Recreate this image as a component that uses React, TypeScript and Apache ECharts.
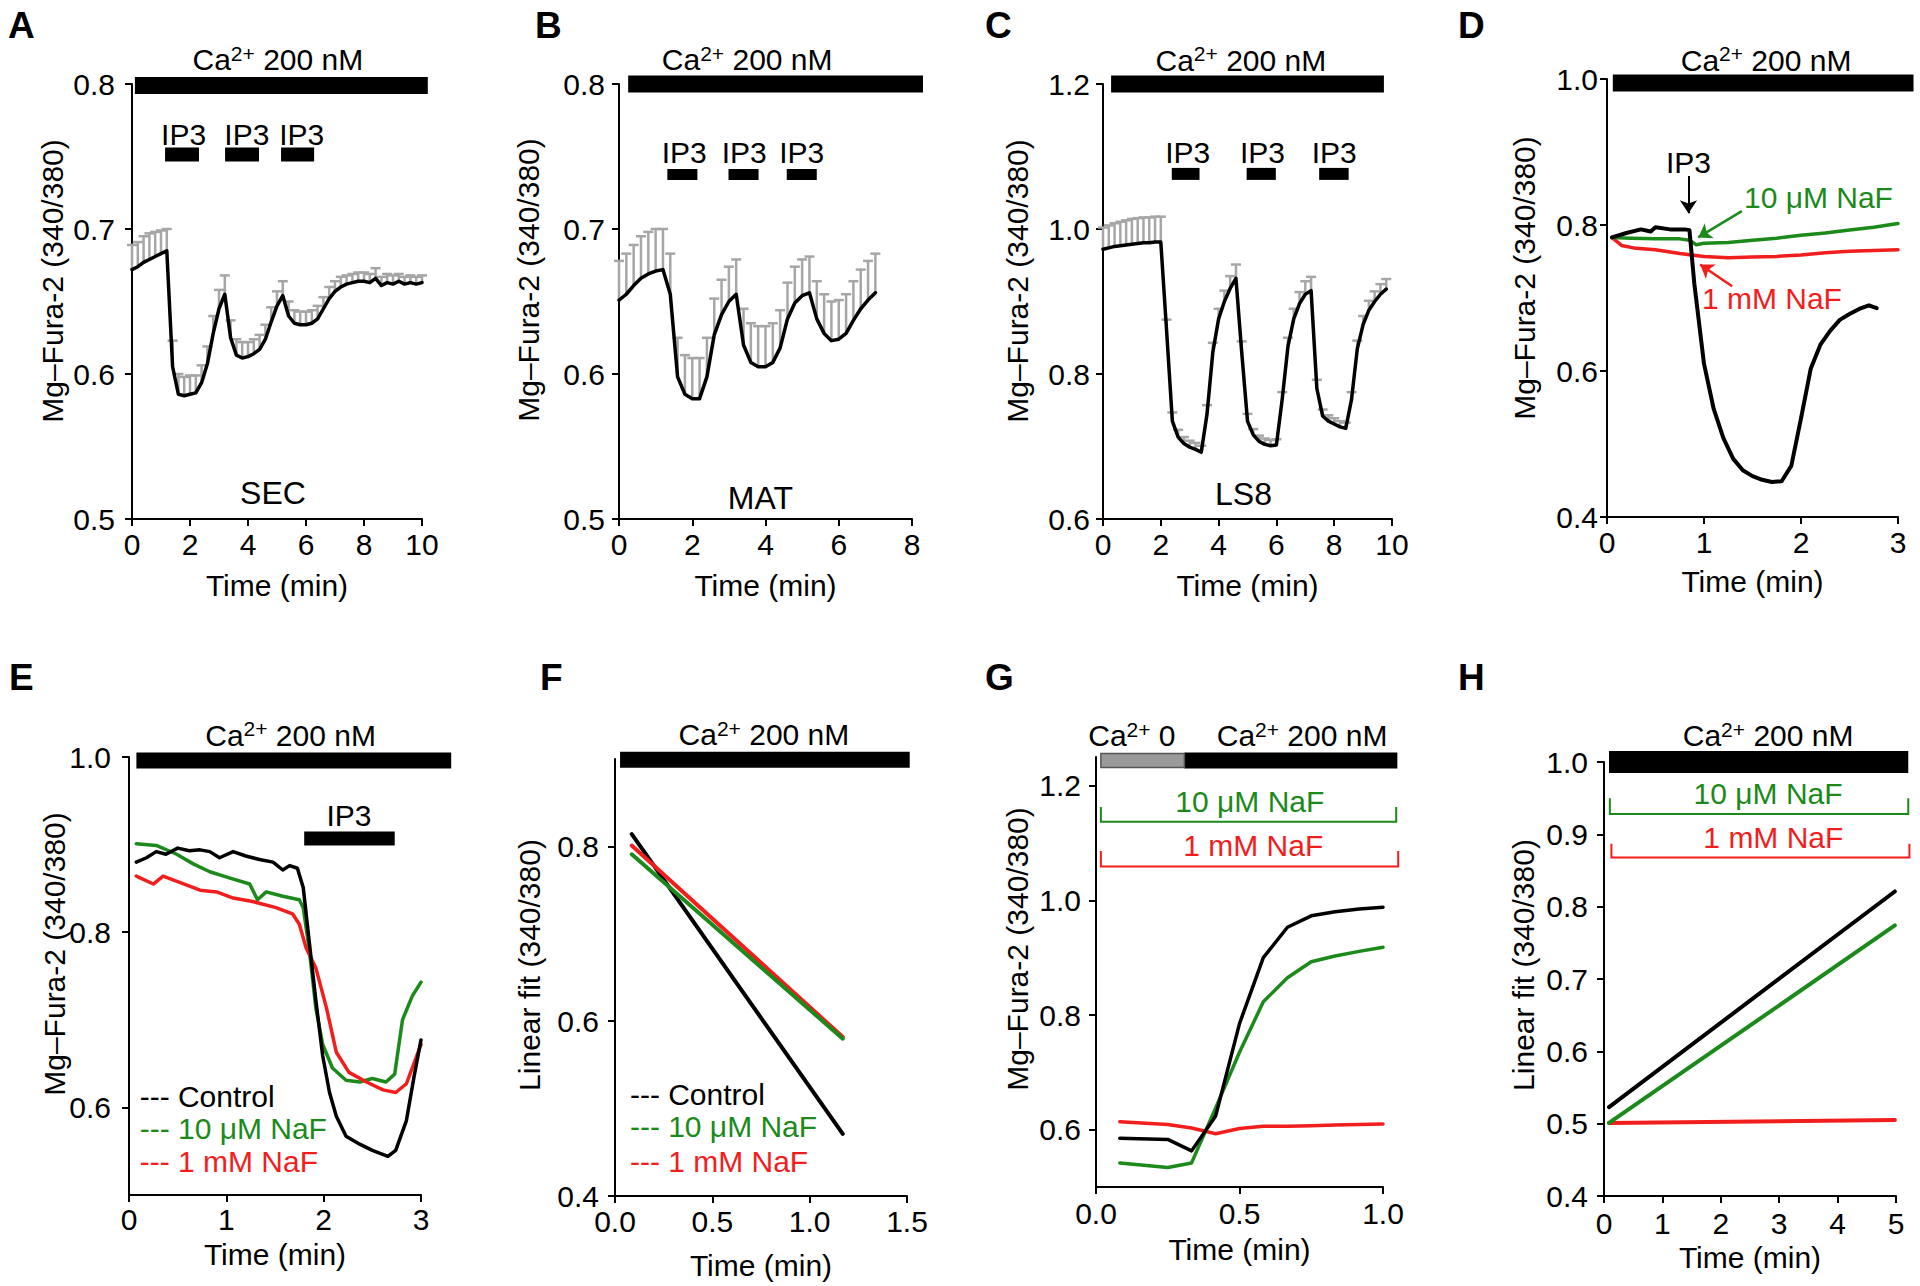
import React, { useEffect, useRef } from "react";
import * as echarts from "echarts";

const FF = '"Liberation Sans", Arial, Helvetica, sans-serif';
const BLACK = "#000000";
const GREEN = "#1b8a1b";
const RED = "#f21d1d";
const ERR_GRAY = "#a6a6a6";
const MU = "\u03bc";

// ---------------- Panel A (SEC) ----------------
const aTime = [0, 0.2, 0.4, 0.6, 0.8, 1, 1.2, 1.4, 1.6, 1.8, 2, 2.2, 2.4, 2.6, 2.8, 3, 3.2, 3.4, 3.6, 3.8, 4, 4.2, 4.4, 4.6, 4.8, 5, 5.2, 5.4, 5.6, 5.8, 6, 6.2, 6.4, 6.6, 6.8, 7, 7.2, 7.4, 7.6, 7.8, 8, 8.2, 8.4, 8.6, 8.8, 9, 9.2, 9.4, 9.6, 9.8, 10];
const aMean = [
  0.672, 0.674, 0.677, 0.679, 0.681, 0.683, 0.685, 0.605, 0.586, 0.585,
  0.586, 0.587, 0.594, 0.607, 0.628, 0.645, 0.655, 0.625, 0.613, 0.611,
  0.612, 0.614, 0.617, 0.624, 0.636, 0.647, 0.654, 0.640, 0.635, 0.634,
  0.634, 0.635, 0.638, 0.645, 0.652, 0.657, 0.660, 0.662, 0.663, 0.664,
  0.664, 0.663, 0.666, 0.661, 0.663, 0.662, 0.664, 0.662, 0.663, 0.662, 0.663,
];
const aErr = [
  0.017, 0.017, 0.018, 0.018, 0.017, 0.016, 0.015, 0.018, 0.014, 0.013,
  0.013, 0.012, 0.012, 0.012, 0.012, 0.013, 0.013, 0.012, 0.011, 0.011,
  0.010, 0.010, 0.010, 0.010, 0.010, 0.010, 0.010, 0.010, 0.009, 0.009,
  0.009, 0.009, 0.009, 0.008, 0.008, 0.007, 0.007, 0.006, 0.006, 0.006,
  0.006, 0.006, 0.007, 0.006, 0.006, 0.006, 0.005, 0.005, 0.005, 0.005, 0.005,
];
const aCaBar = [[0.1, 10.2]];
const aCaLevel = 0.799;
const aIp3Bars = [[1.14, 2.31], [3.21, 4.38], [5.14, 6.28]];
const aIp3Level = 0.7514;
const aIp3LabelX = [1.78, 3.96, 5.85];
const aIp3LabelY = 0.7652;

// ---------------- Panel B (MAT) ----------------
const bTime = [0, 0.2, 0.4, 0.6, 0.8, 1, 1.2, 1.4, 1.6, 1.8, 2, 2.2, 2.4, 2.6, 2.8, 3, 3.2, 3.4, 3.6, 3.8, 4, 4.2, 4.4, 4.6, 4.8, 5, 5.2, 5.4, 5.6, 5.8, 6, 6.2, 6.4, 6.6, 6.8, 7];
const bMean = [
  0.651, 0.655, 0.661, 0.666, 0.669, 0.671, 0.672, 0.655, 0.598, 0.586,
  0.583, 0.583, 0.598, 0.627, 0.641, 0.650, 0.655, 0.620, 0.608, 0.605,
  0.605, 0.608, 0.618, 0.638, 0.649, 0.654, 0.656, 0.638, 0.628, 0.623,
  0.624, 0.628, 0.637, 0.645, 0.651, 0.656,
];
const bErr = [
  0.027, 0.028, 0.028, 0.029, 0.029, 0.029, 0.028, 0.028, 0.027, 0.027,
  0.028, 0.028, 0.027, 0.025, 0.024, 0.024, 0.024, 0.025, 0.027, 0.028,
  0.028, 0.027, 0.026, 0.025, 0.025, 0.025, 0.025, 0.026, 0.027, 0.027,
  0.027, 0.027, 0.027, 0.027, 0.027, 0.027,
];
const bCaBar = [[0.25, 8.3]];
const bCaLevel = 0.8;
const bIp3Bars = [[1.32, 2.14], [2.99, 3.81], [4.58, 5.4]];
const bIp3Level = 0.7376;
const bIp3LabelX = [1.78, 3.42, 4.99];
const bIp3LabelY = 0.753;

// ---------------- Panel C (LS8) ----------------
const cTime = [0, 0.2, 0.4, 0.6, 0.8, 1, 1.2, 1.4, 1.6, 1.8, 2, 2.2, 2.4, 2.6, 2.8, 3, 3.2, 3.4, 3.6, 3.8, 4, 4.2, 4.4, 4.6, 4.8, 5, 5.2, 5.4, 5.6, 5.8, 6, 6.2, 6.4, 6.6, 6.8, 7, 7.2, 7.4, 7.6, 7.8, 8, 8.2, 8.4, 8.6, 8.8, 9, 9.2, 9.4, 9.6, 9.8];
const cMean = [
  0.972, 0.974, 0.976, 0.977, 0.978, 0.979, 0.980, 0.981, 0.981, 0.982,
  0.982, 0.860, 0.735, 0.713, 0.704, 0.699, 0.696, 0.692, 0.745, 0.830,
  0.876, 0.900, 0.918, 0.932, 0.830, 0.735, 0.716, 0.707, 0.703, 0.701,
  0.702, 0.765, 0.838, 0.876, 0.897, 0.910, 0.915, 0.780, 0.742, 0.735,
  0.731, 0.727, 0.725, 0.765, 0.835, 0.868, 0.888, 0.900, 0.910, 0.917,
];
const cErr = [
  0.030, 0.031, 0.032, 0.033, 0.034, 0.035, 0.035, 0.035, 0.035, 0.035,
  0.035, 0.015, 0.012, 0.010, 0.009, 0.009, 0.009, 0.009, 0.012, 0.013,
  0.014, 0.015, 0.017, 0.019, 0.015, 0.010, 0.008, 0.008, 0.008, 0.008,
  0.008, 0.010, 0.012, 0.014, 0.016, 0.018, 0.019, 0.012, 0.009, 0.008,
  0.008, 0.008, 0.008, 0.010, 0.011, 0.012, 0.013, 0.014, 0.014, 0.014,
];
const cCaBar = [[0.28, 9.72]];
const cCaLevel = 1.2;
const cIp3Bars = [[2.38, 3.34], [4.97, 5.98], [7.48, 8.5]];
const cIp3Level = 1.076;
const cIp3LabelX = [2.93, 5.52, 8.0];
const cIp3LabelY = 1.106;

// ---------------- Panel D ----------------
const dBlackTime = [0.05, 0.2, 0.35, 0.45, 0.5, 0.65, 0.8, 0.85, 0.9, 1.0, 1.1, 1.2, 1.3, 1.4, 1.5, 1.6, 1.7, 1.8, 1.9, 2.0, 2.1, 2.2, 2.3, 2.4, 2.5, 2.6, 2.7, 2.78];
const dBlack = [0.783, 0.789, 0.794, 0.791, 0.797, 0.794, 0.794, 0.793, 0.72, 0.61, 0.548, 0.508, 0.48, 0.464, 0.456, 0.451, 0.448, 0.449, 0.47, 0.535, 0.603, 0.636, 0.655, 0.67, 0.678, 0.685, 0.69, 0.686];
const dGreenTime = [0.05, 0.25, 0.5, 0.75, 0.85, 0.92, 1.0, 1.25, 1.5, 1.75, 2.0, 2.25, 2.5, 2.75, 3.0];
const dGreen = [0.783, 0.782, 0.781, 0.781, 0.779, 0.773, 0.775, 0.776, 0.779, 0.782, 0.786, 0.789, 0.793, 0.797, 0.802];
const dRedTime = [0.05, 0.15, 0.3, 0.5, 0.75, 1.0, 1.25, 1.5, 1.75, 2.0, 2.25, 2.5, 2.75, 3.0];
const dRed = [0.783, 0.772, 0.768, 0.766, 0.761, 0.757, 0.755, 0.756, 0.757, 0.759, 0.762, 0.764, 0.765, 0.766];
const dCaBar = [[0.06, 3.16]];
const dCaLevel = 0.9945;
const dIp3Arrow = [0.84, 0.867, 0.84, 0.816];
const dGreenArrow = [1.39, 0.819, 0.94, 0.783];
const dRedArrow = [1.29, 0.716, 0.96, 0.746];

// ---------------- Panel E ----------------
const eBlackTime = [0.075, 0.18, 0.28, 0.38, 0.5, 0.62, 0.73, 0.83, 0.93, 1.07, 1.2, 1.34, 1.48, 1.58, 1.65, 1.73, 1.79, 1.85, 1.92, 1.99, 2.06, 2.13, 2.23, 2.37, 2.5, 2.66, 2.74, 2.85, 2.93, 3.0];
const eBlack = [0.880, 0.885, 0.892, 0.889, 0.896, 0.893, 0.894, 0.892, 0.885, 0.892, 0.887, 0.883, 0.880, 0.871, 0.876, 0.873, 0.851, 0.791, 0.722, 0.659, 0.617, 0.590, 0.567, 0.558, 0.551, 0.544, 0.551, 0.585, 0.636, 0.677];
const eGreenTime = [0.075, 0.28, 0.49, 0.66, 0.83, 1.03, 1.24, 1.32, 1.41, 1.58, 1.75, 1.79, 1.85, 1.92, 1.99, 2.09, 2.23, 2.37, 2.5, 2.64, 2.73, 2.81, 2.91, 3.0];
const eGreen = [0.901, 0.899, 0.889, 0.878, 0.869, 0.862, 0.855, 0.837, 0.846, 0.841, 0.837, 0.828, 0.782, 0.713, 0.672, 0.645, 0.631, 0.629, 0.633, 0.629, 0.638, 0.700, 0.727, 0.743];
const eRedTime = [0.075, 0.25, 0.35, 0.52, 0.73, 0.9, 1.07, 1.27, 1.51, 1.68, 1.75, 1.82, 1.92, 2.03, 2.13, 2.26, 2.44, 2.61, 2.74, 2.85, 3.0];
const eRed = [0.864, 0.855, 0.864, 0.857, 0.848, 0.846, 0.839, 0.835, 0.828, 0.821, 0.809, 0.782, 0.759, 0.713, 0.663, 0.640, 0.629, 0.620, 0.617, 0.627, 0.672];
const eCaBar = [[0.076, 3.31]];
const eCaLevel = 0.996;
const eIp3Bars = [[1.8, 2.73]];
const eIp3Level = 0.907;
const eLegendY = [0.613, 0.576, 0.538];

// ---------------- Panel F ----------------
const fTime = [0.086, 1.17];
const fBlack = [0.814, 0.471];
const fGreen = [0.791, 0.58];
const fRed = [0.801, 0.582];
const fCaBar = [[0.026, 1.514]];
const fCaLevel = 0.899;
const fLegendY = [0.516, 0.479, 0.44];

// ---------------- Panel G ----------------
const gTime = [0.083, 0.25, 0.333, 0.417, 0.5, 0.583, 0.667, 0.75, 0.833, 0.917, 1.0];
const gBlack = [0.585, 0.583, 0.563, 0.624, 0.785, 0.9, 0.953, 0.973, 0.98, 0.985, 0.988];
const gGreen = [0.542, 0.534, 0.542, 0.638, 0.735, 0.823, 0.865, 0.893, 0.903, 0.911, 0.918];
const gRed = [0.614, 0.609, 0.603, 0.593, 0.602, 0.606, 0.606, 0.607, 0.608, 0.609, 0.61];
const gCa0Bar = [[0.017, 0.308]];
const gCaBar = [[0.308, 1.05]];
const gCaLevel = 1.244;
const gGreenBracket = [0.017, 1.046, 1.137, 1.163];
const gRedBracket = [0.017, 1.053, 1.059, 1.086];

// ---------------- Panel H ----------------
const hTime = [0.086, 4.98];
const hBlack = [0.523, 0.821];
const hGreen = [0.501, 0.774];
const hRed = [0.501, 0.505];
const hCaBar = [[0.086, 5.21]];
const hCaLevel = 1.0;
const hGreenBracket = [0.1, 5.21, 0.928, 0.95];
const hRedBracket = [0.127, 5.23, 0.868, 0.887];

// ---------------- helpers ----------------
function lineSeries(gi: number, time: number[], vals: number[], color: string, width: number) {
  return {
    type: "line",
    xAxisIndex: gi,
    yAxisIndex: gi,
    data: time.map((t, i) => [t, vals[i]]),
    showSymbol: false,
    symbol: "none",
    lineStyle: { color, width, join: "round", cap: "round" },
    itemStyle: { color },
    z: 3,
    silent: true,
  };
}

function errSeries(gi: number, time: number[], mean: number[], err: number[]) {
  return {
    type: "custom",
    xAxisIndex: gi,
    yAxisIndex: gi,
    silent: true,
    z: 2,
    data: time.map((t, i) => [t, mean[i], mean[i] + err[i]]),
    renderItem: (params: any, api: any) => {
      const p0 = api.coord([api.value(0), api.value(1)]);
      const p1 = api.coord([api.value(0), api.value(2)]);
      const st = { stroke: ERR_GRAY, lineWidth: 2.5 };
      return {
        type: "group",
        children: [
          { type: "line", shape: { x1: p0[0], y1: p0[1], x2: p1[0], y2: p1[1] }, style: st },
          { type: "line", shape: { x1: p1[0] - 5, y1: p1[1], x2: p1[0] + 5, y2: p1[1] }, style: st },
        ],
      };
    },
  };
}

function rectSeries(gi: number, bars: number[][], level: number, h: number, fill: string, stroke?: string) {
  return {
    type: "custom",
    xAxisIndex: gi,
    yAxisIndex: gi,
    clip: false,
    silent: true,
    z: 4,
    data: bars.map((b) => [b[0], level, b[1]]),
    renderItem: (params: any, api: any) => {
      const p0 = api.coord([api.value(0), api.value(1)]);
      const p1 = api.coord([api.value(2), api.value(1)]);
      return {
        type: "rect",
        shape: { x: p0[0], y: p0[1] - h / 2, width: p1[0] - p0[0], height: h },
        style: stroke ? { fill, stroke, lineWidth: 1.5 } : { fill },
      };
    },
  };
}

function bracketSeries(gi: number, br: number[], color: string) {
  return {
    type: "custom",
    xAxisIndex: gi,
    yAxisIndex: gi,
    clip: false,
    silent: true,
    z: 4,
    data: [[br[0], br[2], br[1], br[3]]],
    renderItem: (params: any, api: any) => {
      const x0 = api.value(0), y = api.value(1), x1 = api.value(2), yt = api.value(3);
      const a = api.coord([x0, yt]);
      const b = api.coord([x0, y]);
      const c = api.coord([x1, y]);
      const d = api.coord([x1, yt]);
      return {
        type: "polyline",
        shape: { points: [a, b, c, d] },
        style: { stroke: color, lineWidth: 2, fill: null },
      };
    },
  };
}

type TextItem = { x: number; y: number; text?: string; ca?: string; color?: string; size?: number; align?: string };

function textSeries(gi: number, items: TextItem[]) {
  return {
    type: "custom",
    xAxisIndex: gi,
    yAxisIndex: gi,
    clip: false,
    silent: true,
    z: 5,
    data: items.map((it) => [it.x, it.y]),
    renderItem: (params: any, api: any) => {
      const it = items[params.dataIndex];
      const p = api.coord([api.value(0), api.value(1)]);
      const size = it.size || 30;
      const style: any = {
        fill: it.color || BLACK,
        font: `${size}px ${FF}`,
        align: it.align || "center",
        verticalAlign: "middle",
      };
      if (it.ca !== undefined) {
        style.text = `{n|Ca}{s|2+}{n| ${it.ca}}`;
        style.rich = {
          n: { fontSize: 30, fontFamily: FF, fill: BLACK },
          s: { fontSize: 21, fontFamily: FF, fill: BLACK, padding: [0, 0, 13, 0] },
        };
      } else {
        style.text = it.text;
      }
      return { type: "text", x: p[0], y: p[1], style };
    },
  };
}

function arrowSeries(gi: number, a: number[], color: string, width: number) {
  return {
    type: "lines",
    coordinateSystem: "cartesian2d",
    xAxisIndex: gi,
    yAxisIndex: gi,
    silent: true,
    z: 6,
    symbol: ["none", "arrow"],
    symbolSize: 13,
    lineStyle: { color, width, opacity: 1 },
    itemStyle: { color },
    data: [{ coords: [[a[0], a[1]], [a[2], a[3]]] }],
  };
}

const grids = [
  { left: 132, top: 84, width: 290, height: 435 },
  { left: 619, top: 84, width: 293, height: 435 },
  { left: 1103, top: 84, width: 289, height: 435 },
  { left: 1607, top: 79, width: 291, height: 438 },
  { left: 129, top: 757, width: 292, height: 438 },
  { left: 615, top: 759, width: 292, height: 437 },
  { left: 1096, top: 757, width: 287, height: 430 },
  { left: 1604, top: 762, width: 292, height: 434 },
];

const xCfg = [
  { min: 0, max: 10, interval: 2, gap: 51, margin: 10, dec: 0 },
  { min: 0, max: 8, interval: 2, gap: 51, margin: 10, dec: 0 },
  { min: 0, max: 10, interval: 2, gap: 51, margin: 10, dec: 0 },
  { min: 0, max: 3, interval: 1, gap: 49, margin: 10, dec: 0 },
  { min: 0, max: 3, interval: 1, gap: 44, margin: 9, dec: 0 },
  { min: 0, max: 1.5, interval: 0.5, gap: 54, margin: 10, dec: 1 },
  { min: 0, max: 1, interval: 0.5, gap: 47, margin: 11, dec: 1 },
  { min: 0, max: 5, interval: 1, gap: 46, margin: 12, dec: 0 },
];

const yCfg: any[] = [
  { min: 0.5, max: 0.8, interval: 0.1, margin: 17 },
  { min: 0.5, max: 0.8, interval: 0.1, margin: 14 },
  { min: 0.6, max: 1.2, interval: 0.2, margin: 13 },
  { min: 0.4, max: 1.0, interval: 0.2, margin: 9 },
  { min: 0.5, max: 1.0, custom: [0.6, 0.8, 1.0], margin: 18 },
  { min: 0.4, max: 0.9, custom: [0.4, 0.6, 0.8], margin: 16 },
  { min: 0.5, max: 1.25, custom: [0.6, 0.8, 1.0, 1.2], margin: 15 },
  { min: 0.4, max: 1.0, interval: 0.1, margin: 16 },
];

const yTitles = [
  { x: 52, y: 281, text: "Mg\u2013Fura-2 (340/380)" },
  { x: 528, y: 280, text: "Mg\u2013Fura-2 (340/380)" },
  { x: 1017, y: 281, text: "Mg\u2013Fura-2 (340/380)" },
  { x: 1524, y: 278, text: "Mg\u2013Fura-2 (340/380)" },
  { x: 54, y: 954, text: "Mg\u2013Fura-2 (340/380)" },
  { x: 529, y: 965, text: "Linear fit (340/380)" },
  { x: 1017, y: 949, text: "Mg\u2013Fura-2 (340/380)" },
  { x: 1523, y: 965, text: "Linear fit (340/380)" },
];

const letters = [
  { x: 8, y: 25, t: "A" },
  { x: 535, y: 25, t: "B" },
  { x: 985, y: 25, t: "C" },
  { x: 1458, y: 25, t: "D" },
  { x: 9, y: 677, t: "E" },
  { x: 540, y: 677, t: "F" },
  { x: 985, y: 677, t: "G" },
  { x: 1458, y: 677, t: "H" },
];

const axisLine = { show: true, onZero: false, lineStyle: { color: BLACK, width: 2 } };

function buildOption() {
  const xAxis = xCfg.map((c, i) => ({
    type: "value",
    gridIndex: i,
    min: c.min,
    max: c.max,
    interval: c.interval,
    axisLine,
    axisTick: { show: true, inside: false, length: 7, lineStyle: { color: BLACK, width: 2 } },
    splitLine: { show: false },
    axisLabel: {
      color: BLACK,
      fontSize: 30,
      fontFamily: FF,
      margin: c.margin,
      formatter: (v: number) => v.toFixed(c.dec),
    },
    name: "Time (min)",
    nameLocation: "middle",
    nameGap: c.gap,
    nameTextStyle: { color: BLACK, fontSize: 30, fontFamily: FF },
  }));

  const yAxis = yCfg.map((c, i) => {
    const ax: any = {
      type: "value",
      gridIndex: i,
      min: c.min,
      max: c.max,
      axisLine,
      axisTick: { show: true, inside: false, length: 7, lineStyle: { color: BLACK, width: 2 } },
      splitLine: { show: false },
      axisLabel: {
        color: BLACK,
        fontSize: 30,
        fontFamily: FF,
        margin: c.margin,
        formatter: (v: number) => v.toFixed(1),
      },
    };
    if (c.custom) {
      ax.axisLabel.customValues = c.custom;
      ax.axisTick.customValues = c.custom;
    } else {
      ax.interval = c.interval;
    }
    return ax;
  });

  const series: any[] = [
    // A
    errSeries(0, aTime, aMean, aErr),
    lineSeries(0, aTime, aMean, BLACK, 3.5),
    rectSeries(0, aCaBar, aCaLevel, 17, BLACK),
    rectSeries(0, aIp3Bars, aIp3Level, 14, BLACK),
    textSeries(0, [
      { x: 5.03, y: 0.8166, ca: "200 nM" },
      ...aIp3LabelX.map((x) => ({ x, y: aIp3LabelY, text: "IP3" })),
      { x: 4.86, y: 0.518, text: "SEC", size: 32 },
    ]),
    // B
    errSeries(1, bTime, bMean, bErr),
    lineSeries(1, bTime, bMean, BLACK, 3.5),
    rectSeries(1, bCaBar, bCaLevel, 17, BLACK),
    rectSeries(1, bIp3Bars, bIp3Level, 11, BLACK),
    textSeries(1, [
      { x: 3.5, y: 0.8166, ca: "200 nM" },
      ...bIp3LabelX.map((x) => ({ x, y: bIp3LabelY, text: "IP3" })),
      { x: 3.86, y: 0.5143, text: "MAT", size: 32 },
    ]),
    // C
    errSeries(2, cTime, cMean, cErr),
    lineSeries(2, cTime, cMean, BLACK, 3.5),
    rectSeries(2, cCaBar, cCaLevel, 17, BLACK),
    rectSeries(2, cIp3Bars, cIp3Level, 12, BLACK),
    textSeries(2, [
      { x: 4.77, y: 1.233, ca: "200 nM" },
      ...cIp3LabelX.map((x) => ({ x, y: cIp3LabelY, text: "IP3" })),
      { x: 4.86, y: 0.634, text: "LS8", size: 32 },
    ]),
    // D
    lineSeries(3, dRedTime, dRed, RED, 3.5),
    lineSeries(3, dGreenTime, dGreen, GREEN, 3.5),
    lineSeries(3, dBlackTime, dBlack, BLACK, 4),
    rectSeries(3, dCaBar, dCaLevel, 17, BLACK),
    arrowSeries(3, dIp3Arrow, BLACK, 2),
    arrowSeries(3, dGreenArrow, GREEN, 2.5),
    arrowSeries(3, dRedArrow, RED, 2.5),
    textSeries(3, [
      { x: 1.64, y: 1.026, ca: "200 nM" },
      { x: 0.84, y: 0.886, text: "IP3" },
      { x: 2.18, y: 0.838, text: `10 ${MU}M NaF`, color: GREEN },
      { x: 1.7, y: 0.7, text: "1 mM NaF", color: RED },
    ]),
    // E
    lineSeries(4, eGreenTime, eGreen, GREEN, 3.5),
    lineSeries(4, eRedTime, eRed, RED, 3.5),
    lineSeries(4, eBlackTime, eBlack, BLACK, 3.5),
    rectSeries(4, eCaBar, eCaLevel, 16, BLACK),
    rectSeries(4, eIp3Bars, eIp3Level, 14, BLACK),
    textSeries(4, [
      { x: 1.66, y: 1.025, ca: "200 nM" },
      { x: 2.26, y: 0.933, text: "IP3" },
      { x: 0.11, y: eLegendY[0], text: "---", color: BLACK, align: "left" },
      { x: 0.503, y: eLegendY[0], text: "Control", color: BLACK, align: "left" },
      { x: 0.11, y: eLegendY[1], text: "---", color: GREEN, align: "left" },
      { x: 0.503, y: eLegendY[1], text: `10 ${MU}M NaF`, color: GREEN, align: "left" },
      { x: 0.11, y: eLegendY[2], text: "---", color: RED, align: "left" },
      { x: 0.503, y: eLegendY[2], text: "1 mM NaF", color: RED, align: "left" },
    ]),
    // F
    lineSeries(5, fTime, fBlack, BLACK, 4),
    lineSeries(5, fTime, fRed, RED, 4),
    lineSeries(5, fTime, fGreen, GREEN, 4),
    rectSeries(5, fCaBar, fCaLevel, 16, BLACK),
    textSeries(5, [
      { x: 0.765, y: 0.928, ca: "200 nM" },
      { x: 0.077, y: fLegendY[0], text: "---", color: BLACK, align: "left" },
      { x: 0.273, y: fLegendY[0], text: "Control", color: BLACK, align: "left" },
      { x: 0.077, y: fLegendY[1], text: "---", color: GREEN, align: "left" },
      { x: 0.273, y: fLegendY[1], text: `10 ${MU}M NaF`, color: GREEN, align: "left" },
      { x: 0.077, y: fLegendY[2], text: "---", color: RED, align: "left" },
      { x: 0.273, y: fLegendY[2], text: "1 mM NaF", color: RED, align: "left" },
    ]),
    // G
    lineSeries(6, gTime, gRed, RED, 3.5),
    lineSeries(6, gTime, gGreen, GREEN, 3.5),
    lineSeries(6, gTime, gBlack, BLACK, 3.5),
    rectSeries(6, gCaBar, gCaLevel, 16, BLACK),
    rectSeries(6, gCa0Bar, gCaLevel, 14, "#9a9a9a", "#555555"),
    bracketSeries(6, gGreenBracket, GREEN),
    bracketSeries(6, gRedBracket, RED),
    textSeries(6, [
      { x: 0.125, y: 1.287, ca: "0" },
      { x: 0.718, y: 1.287, ca: "200 nM" },
      { x: 0.536, y: 1.172, text: `10 ${MU}M NaF`, color: GREEN },
      { x: 0.548, y: 1.095, text: "1 mM NaF", color: RED },
    ]),
    // H
    lineSeries(7, hTime, hRed, RED, 4),
    lineSeries(7, hTime, hGreen, GREEN, 4),
    lineSeries(7, hTime, hBlack, BLACK, 4),
    rectSeries(7, hCaBar, hCaLevel, 22, BLACK),
    bracketSeries(7, hGreenBracket, GREEN),
    bracketSeries(7, hRedBracket, RED),
    textSeries(7, [
      { x: 2.81, y: 1.036, ca: "200 nM" },
      { x: 2.81, y: 0.956, text: `10 ${MU}M NaF`, color: GREEN },
      { x: 2.9, y: 0.896, text: "1 mM NaF", color: RED },
    ]),
  ];

  const graphic: any[] = [
    ...letters.map((l) => ({
      type: "text",
      x: l.x,
      y: l.y,
      silent: true,
      style: {
        text: l.t,
        fill: BLACK,
        font: `bold 37px ${FF}`,
        align: "left",
        verticalAlign: "middle",
      },
    })),
    ...yTitles.map((t) => ({
      type: "text",
      x: t.x,
      y: t.y,
      rotation: Math.PI / 2,
      silent: true,
      style: {
        text: t.text,
        fill: BLACK,
        font: `30px ${FF}`,
        align: "center",
        verticalAlign: "middle",
      },
    })),
  ];

  return {
    animation: false,
    backgroundColor: "#ffffff",
    textStyle: { fontFamily: FF },
    grid: grids.map((g) => ({ ...g, containLabel: false })),
    xAxis,
    yAxis,
    series,
    graphic,
  };
}

export default function App() {
  const ref = useRef<HTMLDivElement>(null);
  useEffect(() => {
    if (!ref.current) return;
    const chart = echarts.init(ref.current, null, { renderer: "svg" });
    chart.setOption(buildOption() as any);
    return () => chart.dispose();
  }, []);
  return (
    <div
      ref={ref}
      style={{ position: "fixed", left: 0, top: 0, width: 1920, height: 1286, background: "#ffffff" }}
    />
  );
}
